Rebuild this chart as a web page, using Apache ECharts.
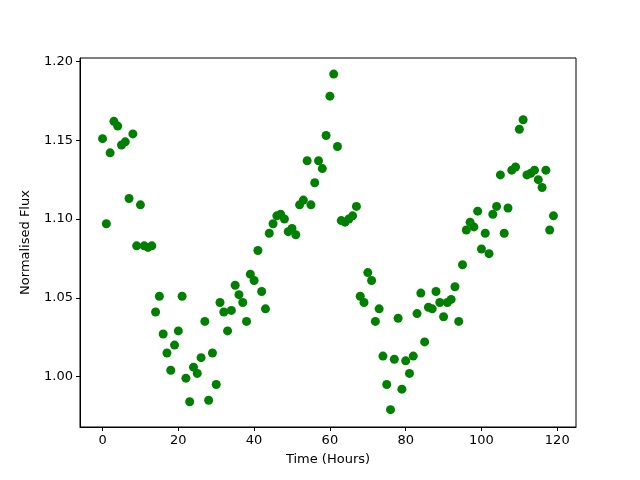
<!DOCTYPE html>
<html>
<head>
<meta charset="utf-8">
<script src="https://cdn.jsdelivr.net/npm/echarts@6/dist/echarts.min.js"></script>
<style>
  html, body { margin: 0; padding: 0; background: #fff; }
  #chart { width: 640px; height: 480px; }
</style>
</head>
<body>
<div id="chart"></div>
<script>
// hourly samples, values
const hours = []
for (let i = 0; i < 120; i++) hours.push(i)

const flux = [
  1.151, 1.097, 1.142, 1.162, 1.159, 1.147, 1.149, 1.113, 1.154, 1.083,
  1.109, 1.083, 1.082, 1.083, 1.041, 1.051, 1.027, 1.015, 1.004, 1.020,
  1.029, 1.051, 0.999, 0.984, 1.006, 1.002, 1.012, 1.035, 0.985, 1.015,
  0.995, 1.047, 1.041, 1.029, 1.042, 1.058, 1.052, 1.047, 1.035, 1.065,
  1.061, 1.080, 1.054, 1.043, 1.091, 1.097, 1.102, 1.103, 1.100, 1.092,
  1.094, 1.090, 1.109, 1.112, 1.137, 1.109, 1.123, 1.137, 1.132, 1.153,
  1.178, 1.192, 1.146, 1.099, 1.098, 1.100, 1.102, 1.108, 1.051, 1.047,
  1.066, 1.061, 1.035, 1.043, 1.013, 0.995, 0.979, 1.011, 1.037, 0.992,
  1.010, 1.002, 1.013, 1.040, 1.053, 1.022, 1.044, 1.043, 1.054, 1.047,
  1.038, 1.047, 1.049, 1.057, 1.035, 1.071, 1.093, 1.098, 1.095, 1.105,
  1.081, 1.091, 1.078, 1.103, 1.108, 1.128, 1.091, 1.107, 1.131, 1.133,
  1.157, 1.163, 1.128, 1.129, 1.131, 1.125, 1.120, 1.131, 1.093, 1.102
]

const xTicks = [0, 20, 40, 60, 80, 100, 120]
const yTicks = [1.00, 1.05, 1.10, 1.15, 1.20]

const chartInstance = echarts.init(document.getElementById('chart'))

const font = 'DejaVu Sans'
const points = hours.map((h, i) => [h, flux[i]])

const option = {
  animation: false,
  backgroundColor: '#fff',
  grid: {
    left: 80,
    right: 64,
    top: 58,
    bottom: 53,
    show: true,
    borderColor: '#000',
    borderWidth: 1
  },
  xAxis: {
    type: 'value',
    min: -5.95,
    max: 124.95,
    name: 'Time (Hours)',
    nameLocation: 'middle',
    nameGap: 26,
    nameTextStyle: { fontFamily: font, fontSize: 13, color: '#000' },
    axisLine: { show: true, onZero: false, lineStyle: { color: '#000', width: 1 } },
    axisTick: { show: true, length: 4, lineStyle: { color: '#000' }, customValues: xTicks },
    axisLabel: {
      fontFamily: font, fontSize: 13, color: '#000', margin: 7,
      customValues: xTicks,
      formatter: v => String(Math.round(v))
    },
    splitLine: { show: false }
  },
  yAxis: {
    type: 'value',
    min: 0.968,
    max: 1.2022,
    name: 'Normalised Flux',
    nameLocation: 'middle',
    nameGap: 48,
    nameTextStyle: { fontFamily: font, fontSize: 13, color: '#000' },
    axisLine: { show: true, onZero: false, lineStyle: { color: '#000', width: 1 } },
    axisTick: { show: true, length: 4, lineStyle: { color: '#000' }, customValues: yTicks },
    axisLabel: {
      fontFamily: font, fontSize: 13, color: '#000', margin: 7,
      customValues: yTicks,
      formatter: v => v.toFixed(2)
    },
    splitLine: { show: false }
  },
  series: [
    {
      type: 'scatter',
      data: points,
      symbol: 'circle',
      symbolSize: 9,
      itemStyle: { color: '#008000', opacity: 1 }
    }
  ]
}
chartInstance.setOption(option)
</script>
</body>
</html>
